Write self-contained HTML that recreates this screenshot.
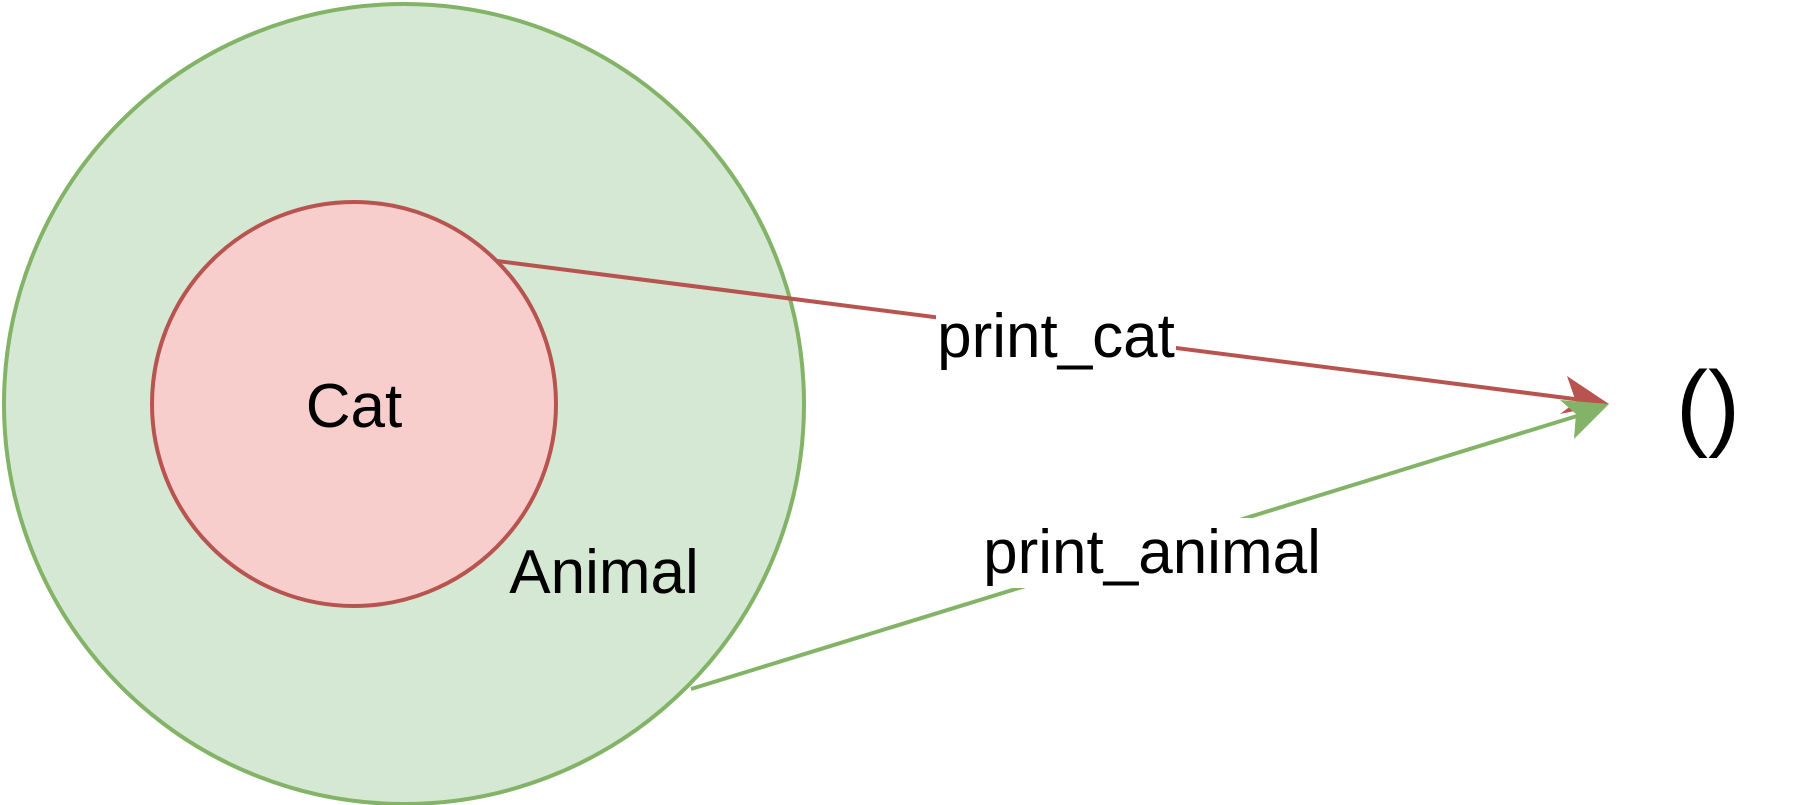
<!DOCTYPE html>
<html><head><meta charset="utf-8"><style>
body{margin:0;background:#fff;width:1805px;height:805px;overflow:hidden}
svg{display:block}
text{font-family:"Liberation Sans",Arial,sans-serif;fill:#000}
</style></head><body>
<svg width="1805" height="805" viewBox="0 0 1805 805">
<circle cx="404" cy="404" r="400" fill="#d5e8d4" stroke="#82b366" stroke-width="4"/>
<circle cx="354" cy="404" r="202" fill="#f8cecc" stroke="#b85450" stroke-width="4"/>
<text x="354" y="427" font-size="62" text-anchor="middle">Cat</text>
<text x="604" y="593" font-size="62" text-anchor="middle">Animal</text>
<line x1="497" y1="261" x2="1590" y2="401" stroke="#b85450" stroke-width="4"/>
<polygon points="1609,404 1567,376 1576,402 1560,414" fill="#b85450"/>
<line x1="691" y1="689" x2="1590" y2="412" stroke="#82b366" stroke-width="4"/>
<polygon points="1609,404 1560,400 1576,414 1574,439" fill="#82b366"/>
<rect x="936" y="308" width="240" height="62" fill="#fff"/>
<text x="1056" y="357" font-size="62" text-anchor="middle">print_cat</text>
<rect x="982" y="518" width="340" height="70" fill="#fff"/>
<text x="1152" y="573" font-size="62" text-anchor="middle">print_animal</text>
<text x="1708" y="438" font-size="96" text-anchor="middle">()</text>
</svg>
</body></html>
